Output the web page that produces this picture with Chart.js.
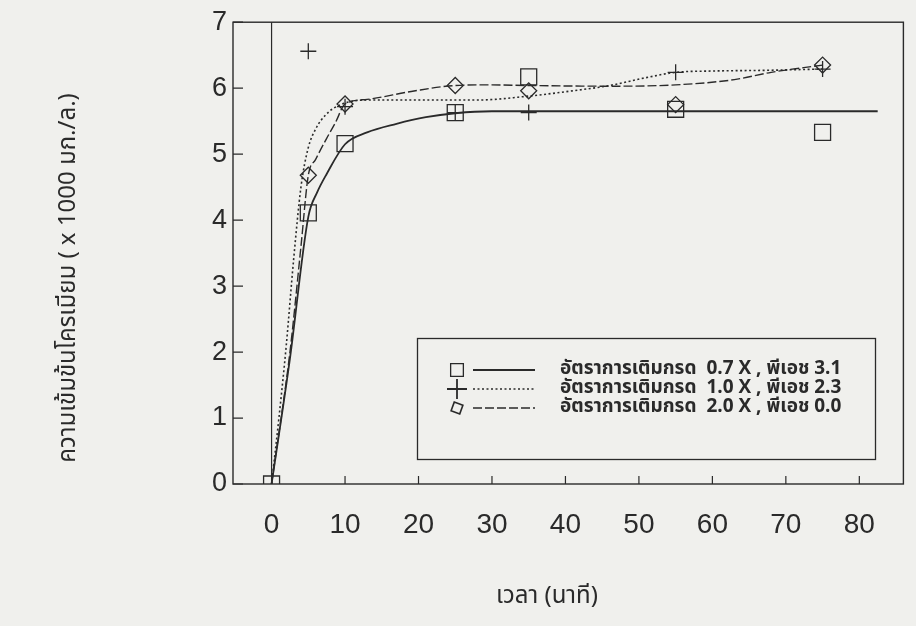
<!DOCTYPE html>
<html lang="th">
<head>
<meta charset="utf-8">
<title>ความเข้มข้นโครเมียม</title>
<script src="https://cdn.jsdelivr.net/npm/chart.js@4.4.1/dist/chart.umd.min.js"></script>
<style>
  html,body{margin:0;padding:0;background:#f0f0ed;}
  #wrap{width:916px;height:626px;position:relative;}
</style>
</head>
<body>
<div id="wrap"><canvas id="c" width="916" height="626"></canvas></div>
<script>
/* ---------------- data ---------------- */
const xTicks = [0,10,20,30,40,50,60,70,80];
const yTicks = [0,1,2,3,4,5,6,7];

const legendLabels = [
  'อัตราการเติมกรด  0.7 X , พีเอช 3.1',
  'อัตราการเติมกรด  1.0 X , พีเอช 2.3',
  'อัตราการเติมกรด  2.0 X , พีเอช 0.0'
];

// measured points (min, x1000 mg/L)
const tSquare  = [0,5,10,25,35,55,75];
const vSquare  = [0,4.11,5.16,5.63,6.17,5.68,5.33];
const tPlus    = [5,10,25,35,55,75];
const vPlus    = [6.56,5.72,5.63,5.63,6.24,6.29];
const tDiamond = [5,10,25,35,55,75];
const vDiamond = [4.68,5.76,6.04,5.96,5.75,6.35];

// fitted curves
const fitSqT = [0,2.5,5,6.2,7.5,10,13,17,21,25,30,40,82.5];
const fitSqV = [0,1.9,4.05,4.42,4.7,5.15,5.33,5.46,5.56,5.62,5.65,5.65,5.65];
const fitPlT = [0,1,2,3,4,5,6,7.4,9.4,13,20,28,35,41,46,51,55,60,67,75];
const fitPlV = [0,1.0,2.1,3.4,4.5,5.1,5.38,5.6,5.75,5.82,5.82,5.82,5.88,5.96,6.04,6.16,6.24,6.26,6.27,6.29];
const fitDiT = [0,2.5,4,5,6,7.5,8.7,10,13,19,25,30,35,46,55,63,68,75];
const fitDiV = [0,2.0,3.6,4.68,4.92,5.24,5.48,5.76,5.83,5.95,6.04,6.05,6.04,6.03,6.05,6.13,6.24,6.35];

/* ---------------- helpers ---------------- */
const INK = '#2a2a2a';
const pts = (xs,ys) => xs.map((x,i)=>({x, y:ys[i]}));
const NUM_FONT = "'Liberation Sans', Arial, sans-serif";
const THAI_FONT = "'Noto Sans Thai','Loma','Garuda','Tlwg Typo','Noto Sans', sans-serif";

/* frame, inward ticks, zero line */
const framePlugin = {
  id:'frame',
  afterDatasetsDraw(chart){
    const {ctx, chartArea:a, scales:{x,y}} = chart;
    ctx.save();
    ctx.strokeStyle = INK; ctx.lineWidth = 1.4;
    ctx.strokeRect(a.left, a.top, a.right-a.left, a.bottom-a.top);
    ctx.lineWidth = 1.2;
    ctx.beginPath();
    const x0 = x.getPixelForValue(0);
    ctx.moveTo(x0, a.top); ctx.lineTo(x0, a.bottom);
    xTicks.forEach(v=>{ const p=x.getPixelForValue(v); ctx.moveTo(p,a.bottom); ctx.lineTo(p,a.bottom-8); });
    yTicks.forEach(v=>{ const p=y.getPixelForValue(v); ctx.moveTo(a.left,p); ctx.lineTo(a.left+10,p); });
    ctx.stroke();
    ctx.restore();
  }
};

/* axis titles */
const titlePlugin = {
  id:'titles',
  afterDraw(chart){
    const ctx = chart.ctx;
    ctx.save();
    ctx.fillStyle = INK;
    ctx.textAlign = 'center'; ctx.textBaseline = 'middle';
    ctx.font = `24px ${THAI_FONT}`;
    ctx.fillText('เวลา (นาที)', 547, 598);
    ctx.translate(70, 278); ctx.rotate(-Math.PI/2);
    ctx.fillText('ความเข้มข้นโครเมียม ( x 1000 มก./ล.)', 0, 0);
    ctx.restore();
  }
};

/* boxed legend inside the plot */
const legendPlugin = {
  id:'boxLegend',
  afterDraw(chart){
    const ctx = chart.ctx;
    const size = {rect:9, cross:10, rectRot:6.5};
    ctx.save();
    ctx.strokeStyle = INK; ctx.lineWidth = 1.3;
    ctx.strokeRect(417.5, 338.5, 458, 121);
    legendLabels.forEach((txt,i)=>{
      const yy = 370 + i*19;
      const ln = chart.data.datasets[i], mk = chart.data.datasets[3+i];
      ctx.strokeStyle = INK; ctx.fillStyle = 'rgba(0,0,0,0)';
      Chart.helpers.drawPoint(ctx, {pointStyle: mk.pointStyle, radius: size[mk.pointStyle],
        rotation: mk.pointStyle==='rectRot'?-25:0, borderWidth:1.3}, 457, yy);
      ctx.beginPath();
      ctx.setLineDash(ln.borderDash || []);
      ctx.lineWidth = ln.borderWidth;
      ctx.moveTo(473, yy); ctx.lineTo(535, yy); ctx.stroke();
      ctx.setLineDash([]);
      ctx.fillStyle = INK;
      ctx.textAlign = 'left'; ctx.textBaseline = 'middle';
      ctx.font = `bold 19px ${THAI_FONT}`;
      ctx.fillText(txt, 560, yy);
    });
    ctx.restore();
  }
};

/* ---------------- chart ---------------- */
const fitLine = (data, dash, w) => ({type:'line', data, showLine:true, pointRadius:0,
  borderColor:INK, borderWidth:w, borderDash:dash, cubicInterpolationMode:'monotone', fill:false});
const marker = (data, style, r) => ({type:'line', data, showLine:false, pointStyle:style,
  pointRadius:r, pointBorderWidth:1.3, pointBorderColor:INK, pointBackgroundColor:'rgba(0,0,0,0)'});

new Chart(document.getElementById('c'), {
  type:'line',
  data:{datasets:[
    fitLine(pts(fitSqT,fitSqV), [], 1.8),
    fitLine(pts(fitPlT,fitPlV), [2,2.5], 1.6),
    fitLine(pts(fitDiT,fitDiV), [9,3], 1.4),
    marker(pts(tSquare,vSquare), 'rect', 11.3),
    marker(pts(tPlus,vPlus), 'cross', 8),
    marker(pts(tDiamond,vDiamond), 'rectRot', 8)
  ]},
  options:{
    responsive:false, animation:false,
    layout:{padding:{top:20, right:5, left:0, bottom:0}},
    plugins:{legend:{display:false}, tooltip:{enabled:false}},
    scales:{
      x:{type:'linear', min:-5.25, max:86,
        grid:{display:false, drawTicks:false}, border:{display:false},
        afterBuildTicks:s=>{ s.ticks = xTicks.map(v=>({value:v})); },
        afterFit:s=>{ s.height = 142; },
        ticks:{color:INK, padding:24, font:{family:NUM_FONT, size:28}, maxRotation:0, autoSkip:false}},
      y:{type:'linear', min:0, max:7,
        grid:{display:false, drawTicks:false}, border:{display:false},
        afterBuildTicks:s=>{ s.ticks = yTicks.map(v=>({value:v})); },
        afterFit:s=>{ s.width = 233; },
        ticks:{color:INK, padding:6, font:{family:NUM_FONT, size:27}}}
    }
  },
  plugins:[framePlugin, legendPlugin, titlePlugin]
});
</script>
</body>
</html>
